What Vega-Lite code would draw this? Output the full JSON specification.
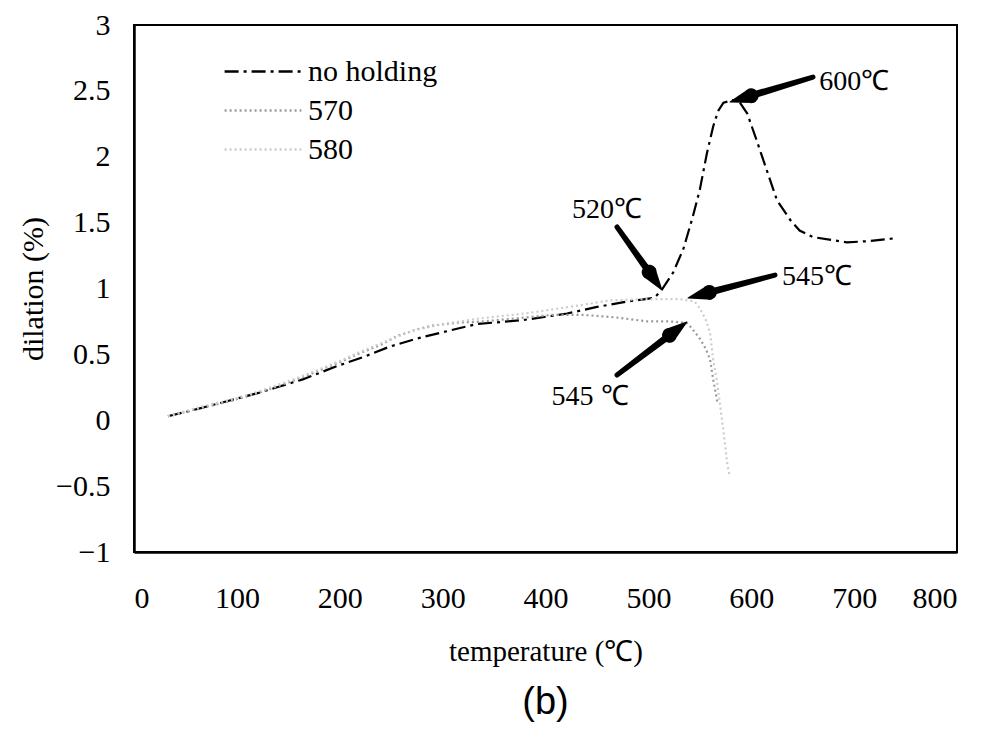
{
  "$schema": "https://vega.github.io/schema/vega-lite/v6.json",
  "width": 823,
  "height": 527,
  "autosize": "none",
  "padding": {"left": 134, "top": 25, "right": 37, "bottom": 197},
  "background": "white",
  "config": {
    "view": {"stroke": "black", "strokeWidth": 2},
    "font": "Liberation Serif",
    "axis": {"grid": false, "domainColor": "black", "domainWidth": 2.5, "tickSize": 0, "labelColor": "black", "titleColor": "black", "labelFont": "Liberation Serif", "titleFont": "Liberation Serif", "titleFontWeight": "normal"}
  },
  "title": {"text": "(b)", "orient": "bottom", "font": "Liberation Sans", "fontSize": 38, "fontWeight": "normal", "color": "black", "offset": 18},
  "datasets": {
    "curves": [
      {"series": "no holding", "t": 33, "d": 0.03},
      {"series": "no holding", "t": 64, "d": 0.09},
      {"series": "no holding", "t": 93, "d": 0.15},
      {"series": "no holding", "t": 122, "d": 0.21},
      {"series": "no holding", "t": 139, "d": 0.25},
      {"series": "no holding", "t": 164, "d": 0.31},
      {"series": "no holding", "t": 197, "d": 0.41},
      {"series": "no holding", "t": 223, "d": 0.48},
      {"series": "no holding", "t": 249, "d": 0.56},
      {"series": "no holding", "t": 275, "d": 0.62},
      {"series": "no holding", "t": 301, "d": 0.67},
      {"series": "no holding", "t": 333, "d": 0.73},
      {"series": "no holding", "t": 378, "d": 0.76},
      {"series": "no holding", "t": 421, "d": 0.81},
      {"series": "no holding", "t": 450, "d": 0.86},
      {"series": "no holding", "t": 479, "d": 0.90},
      {"series": "no holding", "t": 506, "d": 0.93},
      {"series": "no holding", "t": 513, "d": 0.99},
      {"series": "no holding", "t": 524, "d": 1.12},
      {"series": "no holding", "t": 534, "d": 1.30},
      {"series": "no holding", "t": 543, "d": 1.54},
      {"series": "no holding", "t": 550, "d": 1.75},
      {"series": "no holding", "t": 557, "d": 2.03},
      {"series": "no holding", "t": 563, "d": 2.23},
      {"series": "no holding", "t": 568, "d": 2.35},
      {"series": "no holding", "t": 573, "d": 2.41},
      {"series": "no holding", "t": 582, "d": 2.43},
      {"series": "no holding", "t": 589, "d": 2.41},
      {"series": "no holding", "t": 596, "d": 2.33},
      {"series": "no holding", "t": 605, "d": 2.13},
      {"series": "no holding", "t": 615, "d": 1.90},
      {"series": "no holding", "t": 625, "d": 1.67},
      {"series": "no holding", "t": 638, "d": 1.52},
      {"series": "no holding", "t": 647, "d": 1.44},
      {"series": "no holding", "t": 660, "d": 1.39},
      {"series": "no holding", "t": 693, "d": 1.35},
      {"series": "no holding", "t": 715, "d": 1.36},
      {"series": "no holding", "t": 738, "d": 1.38},
      {"series": "570", "t": 33, "d": 0.03},
      {"series": "570", "t": 64, "d": 0.09},
      {"series": "570", "t": 96, "d": 0.15},
      {"series": "570", "t": 122, "d": 0.21},
      {"series": "570", "t": 155, "d": 0.30},
      {"series": "570", "t": 178, "d": 0.37},
      {"series": "570", "t": 200, "d": 0.44},
      {"series": "570", "t": 217, "d": 0.50},
      {"series": "570", "t": 242, "d": 0.58},
      {"series": "570", "t": 256, "d": 0.64},
      {"series": "570", "t": 275, "d": 0.69},
      {"series": "570", "t": 291, "d": 0.72},
      {"series": "570", "t": 314, "d": 0.74},
      {"series": "570", "t": 340, "d": 0.75},
      {"series": "570", "t": 380, "d": 0.78},
      {"series": "570", "t": 407, "d": 0.80},
      {"series": "570", "t": 437, "d": 0.80},
      {"series": "570", "t": 469, "d": 0.78},
      {"series": "570", "t": 499, "d": 0.75},
      {"series": "570", "t": 521, "d": 0.75},
      {"series": "570", "t": 537, "d": 0.74},
      {"series": "570", "t": 542, "d": 0.70},
      {"series": "570", "t": 550, "d": 0.62},
      {"series": "570", "t": 556, "d": 0.54},
      {"series": "570", "t": 560, "d": 0.46},
      {"series": "570", "t": 563, "d": 0.31},
      {"series": "570", "t": 567, "d": 0.14},
      {"series": "580", "t": 33, "d": 0.03},
      {"series": "580", "t": 64, "d": 0.10},
      {"series": "580", "t": 96, "d": 0.16},
      {"series": "580", "t": 122, "d": 0.22},
      {"series": "580", "t": 155, "d": 0.31},
      {"series": "580", "t": 178, "d": 0.38},
      {"series": "580", "t": 200, "d": 0.45},
      {"series": "580", "t": 220, "d": 0.52},
      {"series": "580", "t": 245, "d": 0.60},
      {"series": "580", "t": 271, "d": 0.68},
      {"series": "580", "t": 300, "d": 0.73},
      {"series": "580", "t": 333, "d": 0.77},
      {"series": "580", "t": 380, "d": 0.81},
      {"series": "580", "t": 431, "d": 0.87},
      {"series": "580", "t": 463, "d": 0.91},
      {"series": "580", "t": 500, "d": 0.92},
      {"series": "580", "t": 530, "d": 0.92},
      {"series": "580", "t": 545, "d": 0.90},
      {"series": "580", "t": 550, "d": 0.85},
      {"series": "580", "t": 556, "d": 0.76},
      {"series": "580", "t": 560, "d": 0.66},
      {"series": "580", "t": 563, "d": 0.46},
      {"series": "580", "t": 567, "d": 0.28},
      {"series": "580", "t": 570, "d": 0.10},
      {"series": "580", "t": 574, "d": -0.15},
      {"series": "580", "t": 577, "d": -0.35},
      {"series": "580", "t": 579, "d": -0.42}
    ],
    "arrows": [
      {"arrow": "a600", "seq": 1, "part": "tail", "t": 660.0, "d": 2.605},
      {"arrow": "a600", "seq": 2, "part": "neck", "t": 601.7, "d": 2.468},
      {"arrow": "a600", "seq": 3, "part": "base", "t": 599.9, "d": 2.463},
      {"arrow": "a600", "seq": 4, "part": "tip", "t": 579.3, "d": 2.416},
      {"arrow": "a520", "seq": 1, "part": "tail", "t": 469.5, "d": 1.467},
      {"arrow": "a520", "seq": 2, "part": "neck", "t": 499.7, "d": 1.137},
      {"arrow": "a520", "seq": 3, "part": "base", "t": 500.8, "d": 1.124},
      {"arrow": "a520", "seq": 4, "part": "tip", "t": 513.2, "d": 0.989},
      {"arrow": "a545u", "seq": 1, "part": "tail", "t": 623.1, "d": 1.102},
      {"arrow": "a545u", "seq": 2, "part": "neck", "t": 561.1, "d": 0.974},
      {"arrow": "a545u", "seq": 3, "part": "base", "t": 559.2, "d": 0.970},
      {"arrow": "a545u", "seq": 4, "part": "tip", "t": 538.5, "d": 0.928},
      {"arrow": "a545l", "seq": 1, "part": "tail", "t": 469.5, "d": 0.343},
      {"arrow": "a545l", "seq": 2, "part": "neck", "t": 519.0, "d": 0.636},
      {"arrow": "a545l", "seq": 3, "part": "base", "t": 520.5, "d": 0.645},
      {"arrow": "a545l", "seq": 4, "part": "tip", "t": 537.5, "d": 0.746}
    ],
    "labels": [
      {"label": "600℃", "t": 700, "d": 2.567},
      {"label": "520℃", "t": 459.8, "d": 1.596},
      {"label": "545℃", "t": 663.9, "d": 1.087},
      {"label": "545 ℃", "t": 443.3, "d": 0.176}
    ]
  },
  "layer": [
    {
      "data": {"name": "curves"},
      "mark": {"type": "line", "strokeWidth": 2.2, "clip": true},
      "encoding": {
        "x": {"field": "t", "type": "quantitative", "scale": {"domain": [0, 800], "nice": false},
          "axis": {"values": [0, 100, 200, 300, 400, 500, 600, 700, 800], "labelFontSize": 30, "labelPadding": 31, "title": "temperature (℃)", "titleFontSize": 29, "titlePadding": 24}},
        "y": {"field": "d", "type": "quantitative", "scale": {"domain": [-1, 3], "nice": false},
          "axis": {"values": [-1, -0.5, 0, 0.5, 1, 1.5, 2, 2.5, 3], "format": "~g", "labelFontSize": 30, "labelPadding": 24, "title": "dilation (%)", "titleFontSize": 30, "titlePadding": 7}},
        "color": {"field": "series", "type": "nominal", "scale": {"domain": ["no holding", "570", "580"], "range": ["#000000", "#9a9a9a", "#cccccc"]},
          "legend": {"title": null, "orient": "none", "legendX": 89, "legendY": 27, "labelFontSize": 30, "labelFont": "Liberation Serif", "labelColor": "black", "symbolType": "stroke", "symbolSize": 5900, "symbolStrokeWidth": 2.5, "rowPadding": 0, "clipHeight": 39, "labelOffset": 5}},
        "strokeDash": {"field": "series", "type": "nominal", "scale": {"domain": ["no holding", "570", "580"], "range": [[14, 5, 3, 5], [2, 3], [2, 3]]}},
        "order": {"field": "t", "type": "quantitative"}
      }
    },
    {
      "data": {"name": "arrows"},
      "mark": {"type": "trail", "color": "black"},
      "encoding": {
        "x": {"field": "t", "type": "quantitative"},
        "y": {"field": "d", "type": "quantitative"},
        "detail": {"field": "arrow", "type": "nominal"},
        "order": {"field": "seq", "type": "quantitative"},
        "size": {"field": "part", "type": "nominal", "scale": {"type": "ordinal", "domain": ["tail", "neck", "base", "tip"], "range": [5, 7, 15, 0]}, "legend": null}
      }
    },
    {
      "data": {"name": "labels"},
      "mark": {"type": "text", "font": "Liberation Serif", "fontSize": 28, "color": "black", "align": "center", "baseline": "middle"},
      "encoding": {
        "x": {"field": "t", "type": "quantitative"},
        "y": {"field": "d", "type": "quantitative"},
        "text": {"field": "label", "type": "nominal"}
      }
    }
  ]
}
